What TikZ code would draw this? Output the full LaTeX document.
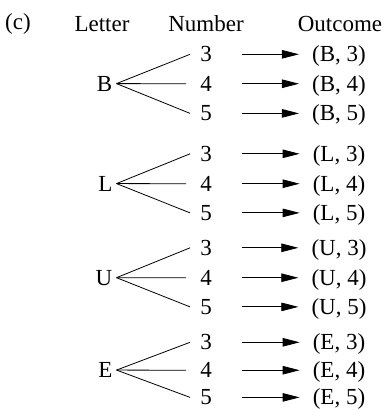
\documentclass[tikz,border=0pt]{standalone}
\usepackage{fontspec}
\setmainfont{Liberation Serif}
\usetikzlibrary{arrows.meta,calc}
\begin{document}
\begin{tikzpicture}[x=1pt,y=1pt,
  txt/.style={inner sep=0pt, font=\fontsize{23pt}{27pt}\selectfont},
  branch/.style={line width=0.8pt},
  arr/.style={line width=0.8pt, -{Triangle[length=17pt,width=8.5pt]}}]
\useasboundingbox (0,0) rectangle (385,-410);
% header
\node[txt, anchor=base] (lab) at (18,-29) {(c)};
\node[txt, anchor=base] (hL) at (102,-31) {Letter};
\node[txt, anchor=base] (hN) at (206,-31) {Number};
\node[txt, anchor=base] (hO) at (340,-31) {Outcome};
\foreach \g/\l/\ya/\yb/\yc in {1/B/54/83.5/113,2/L/153.5/183.5/212.5,3/U/247.5/277.5/306.5,4/E/342/370/397} {
  \node[txt, anchor=base east] (let\g) at (112.5, {-(\yb+7.6)}) {\l};
  \foreach \d/\y/\s in {3/\ya/10,4/\yb/14,5/\yc/10} {
    \node[txt, anchor=base] (num\g\d) at (206, {-(\y+7.8)}) {\d};
    \node[txt, anchor=base] (out\g\d) at (339, {-(\y+7.8)}) {(\l, \d)};
    \draw[branch] ([xshift=4pt]let\g.east) -- ([xshift=-\s pt]num\g\d.west);
    \draw[arr] ([xshift=30pt]num\g\d.east) -- ($(num\g\d.east -| out\g\d.west)+(-13pt,0)$);
  }
}
\end{tikzpicture}
\end{document}
